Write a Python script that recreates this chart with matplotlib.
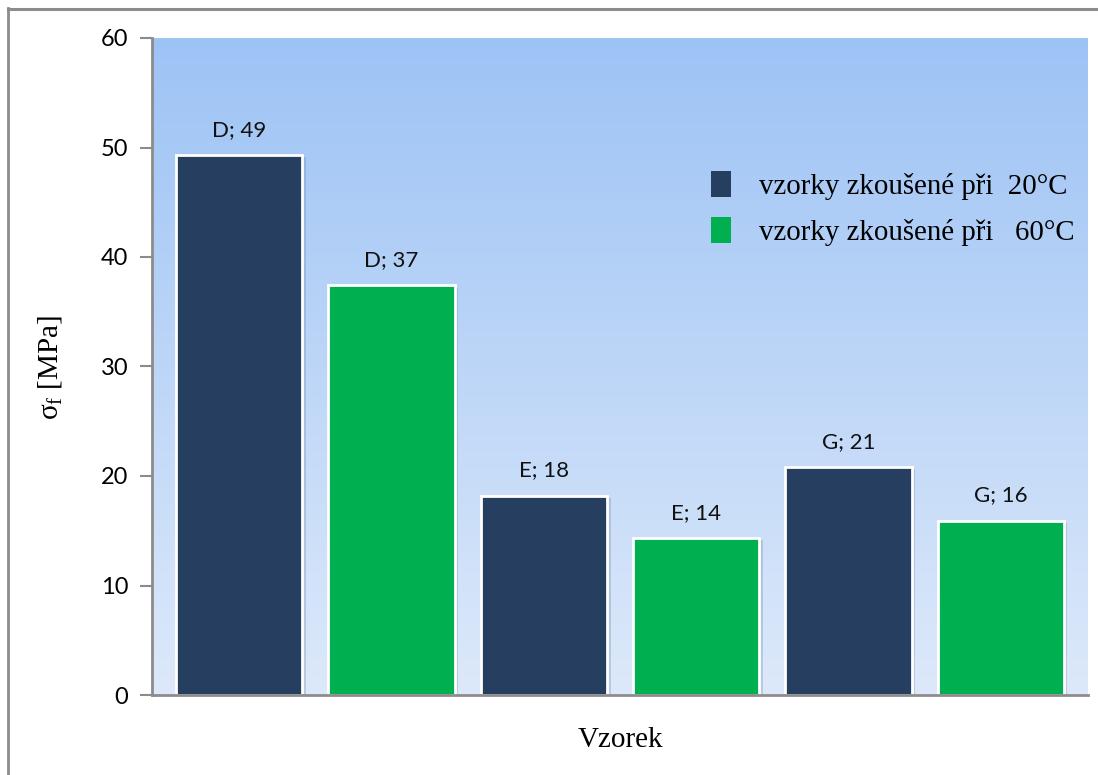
import numpy as np
import matplotlib
matplotlib.use("Agg")
import matplotlib.pyplot as plt
import matplotlib.patheffects as pe
from matplotlib.lines import Line2D
from matplotlib.patches import Patch

# Data
samples = ["D", "D", "E", "E", "G", "G"]
stress = [49.3, 37.4, 18.2, 14.3, 20.8, 15.9]
series = ["20", "60", "20", "60", "20", "60"]
series_labels = ["vzorky zkoušené při  20°C", "vzorky zkoušené při   60°C"]
y_ticks = [0, 10, 20, 30, 40, 50, 60]

colors = {"20": "#263F60", "60": "#00AF50"}

W, H = 1098, 775
fig = plt.figure(figsize=(W / 100, H / 100), dpi=100)
fig.patch.set_facecolor("white")

# outer chart frame (left and top edges)
fig.add_artist(Line2D([8 / W, 8 / W], [0, 1 - 8 / H], transform=fig.transFigure,
                      color="#8C8C8C", lw=2))
fig.add_artist(Line2D([8 / W, 1], [1 - 9 / H, 1 - 9 / H], transform=fig.transFigure,
                      color="#8C8C8C", lw=2.2))

ax = fig.add_axes([152 / W, 1 - 695 / H, (1088 - 152) / W, (695 - 38) / H])

x = np.arange(len(stress))
ax.set_xlim(-0.573, len(stress) - 1 + 0.573)
ax.set_ylim(0, 60)

# vertical gradient background
top = np.array([157, 195, 245]) / 255
bottom = np.array([221, 233, 250]) / 255
t = np.linspace(0, 1, 256)[:, None]
grad = (top * (1 - t) + bottom * t)[:, None, :]
ax.imshow(grad, extent=[ax.get_xlim()[0], ax.get_xlim()[1], 0, 60], aspect="auto",
          origin="upper", zorder=0)

shadow = [pe.SimplePatchShadow(offset=(2.5, -1.5), shadow_rgbFace="#7890B0", alpha=0.35),
          pe.Normal()]
bars = ax.bar(x, stress, width=0.83, color=[colors[s] for s in series],
              edgecolor="white", linewidth=2, zorder=2)
for b in bars:
    b.set_path_effects(shadow)

for xi, v, name in zip(x, stress, samples):
    ax.text(xi, v + 1.4, f"{name}; {v:.0f}", ha="center", va="bottom",
            fontsize=16, family="Lato", color="#111111", zorder=3)

ax.set_xticks([])
ax.set_yticks(y_ticks)
ax.set_yticklabels([str(v) for v in y_ticks], fontsize=17, family="Lato")
ax.tick_params(axis="y", direction="out", length=9, width=1.5, color="#8C8C8C", pad=8)

for side in ["top", "right"]:
    ax.spines[side].set_visible(False)
for side in ["left", "bottom"]:
    ax.spines[side].set_color("#8C8C8C")
    ax.spines[side].set_linewidth(2)
    ax.spines[side].set_zorder(4)

fig.text(620 / W, 1 - 740 / H, "Vzorek", family="Liberation Serif", fontsize=21,
         ha="center", va="center")
fig.text(50 / W, 1 - 368 / H, r"$\mathregular{\sigma_f}$ [MPa]", family="Liberation Serif",
         fontsize=21, rotation=90, ha="center", va="center")

handles = [Patch(facecolor=colors["20"], edgecolor="none"),
           Patch(facecolor=colors["60"], edgecolor="none")]
leg = ax.legend(handles, series_labels, loc="upper left", bbox_to_anchor=(0.58, 0.845),
                frameon=False, prop={"family": "Liberation Serif", "size": 20.8},
                handlelength=0.7, handleheight=1.0, handletextpad=0.95, labelspacing=0.6,
                borderpad=0, borderaxespad=0)

fig.canvas.draw()
# position legend so that its first marker's left edge sits at x=711 px, top at y=171 px
bb = leg.get_window_extent()
h0 = leg.legend_handles[0].get_window_extent()
dx = 711 - h0.x0
dy = (H - 171) - h0.y1
axbb = ax.get_window_extent()
leg.set_bbox_to_anchor(((bb.x0 + dx - axbb.x0) / axbb.width,
                        (bb.y1 + dy - axbb.y0) / axbb.height), transform=ax.transAxes)

fig.savefig("out.png", dpi=100, facecolor="white")
